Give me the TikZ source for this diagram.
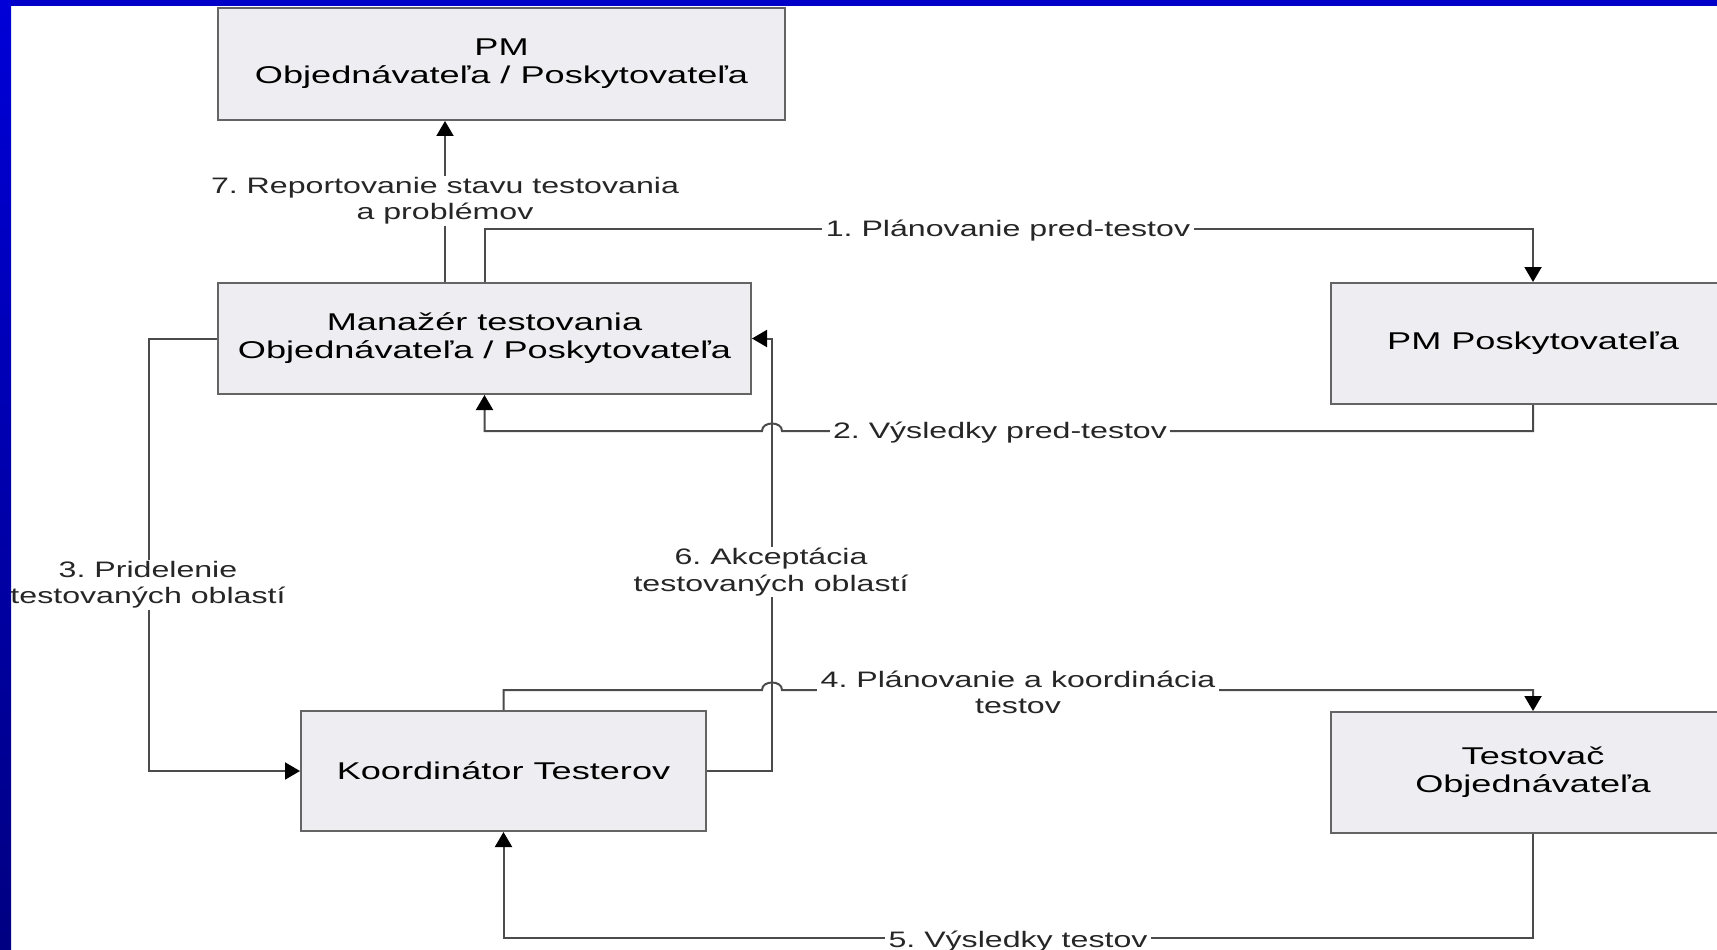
\documentclass[tikz,border=0pt]{standalone}
\usepackage{fontspec}
\setmainfont[FakeStretch=1.49]{Liberation Sans}
\newfontfamily\mylblfam[FakeStretch=1.435]{Liberation Sans}
\usetikzlibrary{arrows.meta}
\newcommand\myboxfont{\fontsize{6.9}{7.95}\selectfont\frenchspacing}
\newcommand\mylblfont{\mylblfam\fontsize{6.37}{7.45}\selectfont\frenchspacing}
\definecolor{boxfill}{RGB}{238,238,242}
\definecolor{boxline}{RGB}{100,100,100}
\definecolor{conn}{RGB}{75,75,75}
\definecolor{bandtop}{RGB}{0,0,200}
\definecolor{bandA}{RGB}{0,0,216}
\definecolor{bandB}{RGB}{0,0,240}
\definecolor{bandC}{RGB}{0,0,130}
\tikzset{
  rbox/.style={draw=boxline, fill=boxfill, line width=0.2mm, align=center, inner sep=0pt, font=\myboxfont},
  lbl/.style={fill=white, inner xsep=1pt, inner ysep=0.5pt, align=center, font=\mylblfont, text=black!85},
  conn/.style={draw=conn, line width=0.2mm},
  arr/.style={conn, -{Triangle[length=1.5mm,width=1.7mm,black]}},
}
\begin{document}
\begin{tikzpicture}[x=0.1mm,y=-0.1mm]
\useasboundingbox (0,0) rectangle (1717,949);
\clip (0,0) rectangle (1717,949);
\fill[white] (0,0) rectangle (1717,949);

% boxes
\node[rbox, minimum width=56.7mm, minimum height=11.2mm] (pmtop) at (501.5,64) {PM\\Objednávateľa / Poskytovateľa};
\node[rbox, minimum width=53.3mm, minimum height=11.1mm] (mgr) at (484.5,338.5) {Manažér testovania\\Objednávateľa / Poskytovateľa};
\node[rbox, minimum width=40.4mm, minimum height=12.1mm] (pmp) at (1533,343.5) {PM Poskytovateľa};
\node[rbox, minimum width=40.5mm, minimum height=12.0mm] (koord) at (503.5,771) {Koordinátor Testerov};
\node[rbox, minimum width=40.4mm, minimum height=12.1mm] (tester) at (1533,772.5) {Testovač\\Objednávateľa};

% bend points
\coordinate (c7) at (445,200);
\coordinate (c1a) at (484.5,229);
\coordinate (c1b) at (1533,229);
\coordinate (c2a) at (1533,431);
\coordinate (c2b) at (484.5,431);
\coordinate (h2r) at (782,431);
\coordinate (h2l) at (762,431);
\coordinate (c6a) at (772,771);
\coordinate (c6b) at (772,338.5);
\coordinate (c3a) at (149,338.5);
\coordinate (c3b) at (149,771);
\coordinate (c4a) at (503.5,690);
\coordinate (c4b) at (1533,690);
\coordinate (h4l) at (762,690);
\coordinate (h4r) at (782,690);
\coordinate (c5a) at (1533,938);
\coordinate (c5b) at (503.5,938);

% 6 (drawn first so hops pass over it)
\draw[arr] (koord.east) -- (c6a) -- (c6b) -- (mgr.east);
% 7
\draw[arr] (mgr.north -| c7) -- (pmtop.south -| c7);
\node[lbl] (l7) at (445,201) {7. Reportovanie stavu testovania\\a problémov};
% 1
\draw[arr] (mgr.north) -- (c1a) -- (c1b) -- (pmp.north);
% 2
\draw[arr] (pmp.south) -- (c2a) -- (h2r) .. controls ([yshift=1.0mm]h2r) and ([yshift=1.0mm]h2l) .. (h2l) -- (c2b) -- (mgr.south);
% 3
\draw[arr] (mgr.west) -- (c3a) -- (c3b) -- (koord.west);
% 4
\draw[arr] (koord.north) -- (c4a) -- (h4l) .. controls ([yshift=1.0mm]h4l) and ([yshift=1.0mm]h4r) .. (h4r) -- (c4b) -- (tester.north);
% 5
\draw[arr] (tester.south) -- (c5a) -- (c5b) -- (koord.south);

% labels
\node[lbl] (l1) at (1008,231) {1. Plánovanie pred-testov};
\node[lbl] (l2) at (1000,433) {2. Výsledky pred-testov};
\node[lbl] (l3) at (148,585) {3. Pridelenie\\testovaných oblastí};
\node[lbl] (l6) at (771,572) {6. Akceptácia\\testovaných oblastí};
\node[lbl] (l4) at (1018,692) {4. Plánovanie a koordinácia\\testov};
\node[lbl] (l5) at (1018,942) {5. Výsledky testov};

% blue frame
\fill[bandtop] (0,0) rectangle (1717,6);
\shade[top color=bandA, middle color=bandB, bottom color=bandC] (0,0) rectangle (11,949);
\end{tikzpicture}
\end{document}
